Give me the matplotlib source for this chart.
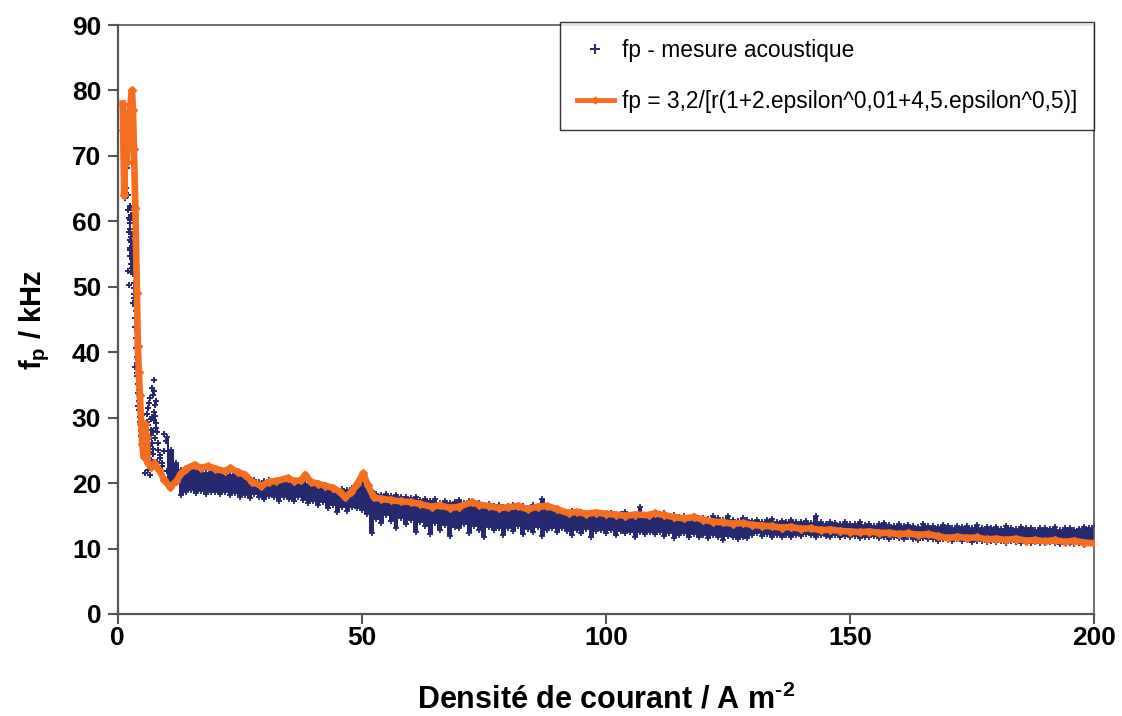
import numpy as np
import matplotlib.pyplot as plt
from matplotlib.lines import Line2D

plt.rcParams['font.family'] = ['Liberation Sans', 'DejaVu Sans']
plt.rcParams['mathtext.fontset'] = 'custom'
plt.rcParams['mathtext.rm'] = 'Liberation Sans:bold'
plt.rcParams['mathtext.it'] = 'Liberation Sans:bold'
plt.rcParams['mathtext.bf'] = 'Liberation Sans:bold'

NAVY = '#262870'
ORANGE = '#F36E21'

# fit curve
fit_x = [1.0, 1.1, 1.3, 1.5, 1.8, 2.0, 2.3, 2.6, 2.9, 3.1, 3.3, 3.6, 3.9, 4.1, 4.3, 4.5, 4.8, 5.0,
         5.3, 5.6, 5.9, 6.2, 6.8, 7.5, 8.5, 9.5, 10.7, 12, 13, 14, 15.8, 17, 18.5, 20, 22, 23,
         24.6, 26, 27.5, 29.4, 31, 32.5, 34.9, 36, 37.5, 38.4, 39.5, 41, 42.5, 44, 45.5, 46.6,
         47.8, 49, 50.3, 51.2, 52.5, 54, 56, 58, 60, 62, 64.3, 66, 68, 70, 72.5, 74, 76, 78, 80,
         82, 84, 86, 88, 90, 92.4, 94, 96, 98, 100, 102, 104, 106, 108.8, 110, 112, 114, 116,
         118, 120, 122, 124, 126, 128, 130, 132, 134, 136, 138, 140, 142, 144, 146, 148, 150,
         152, 154, 156, 158, 160, 162, 164, 166, 168, 170, 172, 174, 176, 178, 180, 182, 184,
         186, 188, 190, 192, 194, 196, 198, 200]
fit_y = [78, 74, 64, 70, 69, 72, 76, 78, 80, 77, 71, 62, 49, 41, 37, 33.5, 29, 26,
         24, 29, 27, 23, 22.5, 23, 22, 20.5, 19.4, 20.3, 21.5, 22.2, 22.8, 22.3, 22.6, 22.2, 21.8, 22.3,
         21.7, 21.3, 20.2, 19.6, 20.2, 20.3, 20.8, 20.3, 20.4, 21.3, 20.2, 19.9, 19.6, 19.3, 18.7, 17.8,
         18.6, 19.8, 21.5, 19.7, 17.8, 17.6, 17.4, 17.2, 17.1, 16.8, 16.4, 16.6, 16.2, 16.4, 17.1, 16.7, 16.5, 16.2, 16.3,
         16.5, 16.0, 16.4, 16.5, 16.0, 15.4, 15.6, 15.3, 15.5, 15.3, 15.2, 15.0, 15.2, 15.1, 15.4, 15.1, 14.8, 14.6,
         14.8, 14.4, 14.1, 14.0, 13.8, 13.9, 13.6, 13.5, 13.4, 13.2, 13.3, 13.0, 13.1, 12.8, 12.9, 12.7, 12.6,
         12.5, 12.6, 12.4, 12.4, 12.2, 12.3, 12.1, 12.2, 11.9, 11.6, 11.8, 11.6, 11.7, 11.4, 11.5, 11.3, 11.5,
         11.2, 11.3, 11.1, 11.3, 11.0, 11.2, 10.9, 10.8]

# scattered acoustic measurements at low current density
early_x = [1.2, 1.5, 1.7, 1.9, 2.1, 2.0, 2.2, 2.4, 2.3, 2.5, 2.6, 2.7, 2.5, 2.8, 2.9, 3.0, 2.7, 3.1, 2.2, 2.1,
           3.3, 3.4, 3.5, 3.6, 3.5, 3.7, 3.8, 3.9, 3.6, 4.0, 4.1, 4.2, 4.3, 4.4, 4.5, 4.6, 4.7, 4.8, 5.0, 5.2,
           5.4, 5.6, 5.8, 6.0, 6.2, 6.4, 6.6, 6.8, 7.0, 7.2, 7.4, 7.6, 7.8, 8.0, 8.3, 8.6, 9.0, 9.4, 9.8, 6.1,
           6.5, 7.1, 7.5, 7.9, 5.5, 5.9, 6.3, 6.9, 7.3, 8.1,
           2.4, 2.6, 2.8, 3.0, 3.2, 2.9, 3.1, 3.3, 2.6, 2.8, 3.0, 3.4, 3.2, 2.4, 2.7,
           3.8, 3.9, 4.0, 4.1, 4.2, 3.9, 4.0, 4.3, 4.4, 4.1,
           5.0, 5.3, 5.6, 5.9, 6.2, 6.6, 7.0, 7.4, 7.8, 8.2, 8.6, 9.0, 9.4, 10.0, 6.7, 7.6,
           7.0, 7.2, 7.5, 7.7, 6.6, 6.9, 7.3]
early_y = [66.3, 63.6, 65.1, 68.2, 64.0, 61.8, 60.5, 62.3, 58.4, 59.7, 57.1, 61.0, 55.6, 56.9, 54.2, 52.8, 53.5, 51.9, 50.2, 52.4,
           49.8, 48.3, 47.0, 45.2, 43.9, 42.1, 40.6, 39.2, 37.8, 36.4, 35.1, 33.7, 32.5, 31.2, 30.1, 29.4, 28.0, 27.2, 26.3, 25.5,
           24.1, 25.8, 27.4, 30.6, 28.9, 26.7, 24.8, 23.6, 22.4, 33.4, 35.7, 31.9, 29.2, 27.8, 26.1, 24.3, 23.0, 27.5, 26.4, 22.0,
           21.3, 34.5, 30.8, 28.4, 21.6, 23.4, 32.2, 29.8, 25.2, 23.2,
           60.2, 58.9, 57.6, 55.1, 53.9, 60.8, 56.3, 50.6, 54.7, 52.2, 58.0, 48.9, 47.5, 56.0, 62.0,
           46.3, 44.8, 43.2, 41.5, 39.9, 38.4, 36.9, 35.6, 34.2, 31.8,
           30.4, 28.7, 27.1, 29.3, 31.5, 33.0, 26.2, 29.6, 32.6, 25.1, 23.8, 22.6, 24.9, 21.8, 28.1, 26.9,
           30.1, 28.0, 34.0, 30.3, 25.6, 27.3, 24.4]

# dense measurement band, x = 10 .. 200 (step 1): low / high edges
band_x = list(range(10, 201))
band_lo = [20.3, 20.0, 20.5, 18.2, 18.6, 18.9, 18.5, 18.8, 18.4, 18.7,
           18.7, 18.3, 18.6, 18.2, 18.5, 17.9, 18.2, 17.7, 18.3, 17.9,
           17.6, 18.1, 17.8, 17.2, 17.9, 17.5, 17.3, 17.9, 17.4, 16.9,
           17.3, 16.6, 17.1, 16.2, 16.7, 15.6, 16.4, 15.8, 16.3, 16.2,
           15.9, 15.3, 12.3, 14.5, 13.9, 15.1, 14.2, 13.1, 14.6, 13.8,
           14.3, 12.5, 14.1, 13.5, 12.2, 13.9, 12.9, 13.6, 11.9, 13.3,
           13.1, 13.7, 12.4, 13.5, 12.8, 11.7, 13.3, 12.9, 13.2, 12.1,
           13.2, 12.7, 13.4, 12.2, 13.0, 12.6, 13.3, 11.9, 12.8, 13.1,
           12.5, 13.2, 12.7, 12.1, 12.9, 12.4, 13.0, 11.8, 12.7, 12.9,
           12.4, 12.8, 12.0, 12.7, 12.3, 12.6, 11.8, 12.5, 12.2, 12.6,
           12.2, 12.5, 11.9, 12.3, 11.6, 12.1, 12.4, 11.8, 12.2, 11.7,
           12.0, 11.6, 12.1, 11.8, 11.3, 11.9, 11.7, 11.5, 11.8, 11.6,
           12.0, 12.3, 11.9, 12.2, 11.8, 12.1, 11.7, 12.0, 11.8, 12.1,
           11.9, 12.2, 12.0, 11.8, 12.1, 11.9, 11.7, 12.0, 11.8, 11.9,
           11.7, 11.9, 11.6, 11.8, 11.7, 11.9, 11.6, 11.8, 11.5, 11.7,
           11.6, 11.4, 11.7, 11.5, 11.3, 11.6, 11.4, 11.5, 11.2, 11.4,
           11.3, 11.1, 11.4, 11.2, 11.3, 11.0, 11.2, 11.1, 11.0, 11.2,
           11.0, 11.2, 10.9, 11.1, 11.0, 10.9, 11.1, 10.8, 11.0, 10.9,
           10.8, 11.0, 10.9, 10.7, 10.9, 10.8, 10.7, 10.9, 10.6, 10.8, 10.7]
band_hi = [27.0, 25.0, 23.0, 22.0, 22.3, 22.6, 22.2, 21.8, 21.6, 21.7,
           21.6, 21.4, 21.5, 21.2, 21.4, 21.0, 20.9, 20.6, 20.4, 20.1,
           20.3, 20.4, 20.2, 20.0, 20.2, 20.1, 19.9, 20.1, 20.4, 19.9,
           19.7, 19.5, 19.4, 19.2, 19.3, 18.9, 19.1, 18.9, 19.2, 19.8,
           20.4, 20.0, 18.8, 18.4, 18.2, 18.4, 18.0, 18.2, 17.9, 17.8,
           17.7, 17.9, 17.4, 17.6, 17.2, 17.5, 17.0, 17.3, 16.9, 17.1,
           17.4, 17.0, 17.2, 16.8, 17.0, 16.6, 16.8, 16.5, 16.6, 16.4,
           16.5, 16.7, 16.3, 16.5, 16.2, 16.6, 16.3, 17.6, 16.4, 16.0,
           16.1, 15.8, 15.5, 15.7, 15.4, 15.6, 15.3, 15.5, 15.2, 15.4,
           15.2, 15.5, 15.0, 15.3, 15.6, 15.1, 15.0, 16.3, 15.2, 15.0,
           15.3, 15.0, 15.4, 14.9, 15.1, 14.8, 15.0, 14.7, 14.9, 14.6,
           14.7, 14.5, 14.9, 14.6, 14.3, 15.0, 14.4, 14.2, 14.6, 14.3,
           14.2, 14.4, 14.1, 14.3, 14.5, 14.0, 14.2, 14.0, 14.3, 14.1,
           14.0, 14.2, 13.9, 14.9, 14.0, 13.8, 14.1, 13.9, 13.8, 14.0,
           13.8, 13.7, 14.0, 13.6, 13.8, 13.5, 13.7, 13.9, 13.6, 13.5,
           13.7, 13.4, 13.6, 13.5, 13.3, 13.8, 13.4, 13.5, 13.3, 13.6,
           13.4, 13.2, 13.5, 13.3, 13.4, 13.1, 13.6, 13.2, 13.3, 13.1,
           13.3, 13.0, 13.4, 13.2, 13.0, 13.3, 13.1, 13.2, 12.9, 13.1,
           13.2, 13.0, 13.3, 12.9, 13.1, 13.2, 12.8, 13.0, 13.3, 13.1, 13.5]

fig = plt.figure(figsize=(11.22, 7.16), dpi=100)
ax = fig.add_axes([0.105, 0.1425, 0.87, 0.8225])

# measurement band
ax.fill_between(band_x, band_lo, band_hi, step='mid', color=NAVY, lw=0, zorder=2)
ax.plot(band_x, band_hi, '+', color=NAVY, ms=4.5, mew=1.3, zorder=2)
ax.plot(band_x, band_lo, '+', color=NAVY, ms=4.5, mew=1.3, zorder=2)
ax.plot(early_x, early_y, '+', color=NAVY, ms=5, mew=1.4, zorder=2)

# fit
ax.plot(fit_x, fit_y, '-', color=ORANGE, lw=4.8, marker='D', ms=4, zorder=3)

ax.set_xlim(0, 200)
ax.set_ylim(0, 90)
ax.set_xticks([0, 50, 100, 150, 200])
ax.set_yticks(range(0, 91, 10))
ax.tick_params(axis='both', labelsize=19, width=1.5, length=7, color='#555555', pad=5)
ax.tick_params(axis='x', pad=2)
for lbl in ax.get_xticklabels() + ax.get_yticklabels():
    lbl.set_fontweight('bold')
for side in ['left', 'bottom']:
    ax.spines[side].set_color('#555555')
    ax.spines[side].set_linewidth(1.6)
for side in ['top', 'right']:
    ax.spines[side].set_color('#555555')
    ax.spines[side].set_linewidth(1.2)

ax.set_xlabel(r'Densité de courant / A m$^{\text{-2}}$', fontsize=22, fontweight='bold', labelpad=24)
ax.set_ylabel(r'f$_{\text{p}}$ / kHz', fontsize=21, fontweight='bold', labelpad=14)

handles = [Line2D([], [], ls='none', marker='+', color=NAVY, ms=7, mew=1.4),
           Line2D([], [], color=ORANGE, lw=3.5, marker='D', ms=3.5)]
leg = ax.legend(handles, ['fp - mesure acoustique', 'fp = 3,2/[r(1+2.epsilon^0,01+4,5.epsilon^0,5)]'],
                loc='upper right', bbox_to_anchor=(1.0, 1.006), fontsize=16.4, frameon=True,
                fancybox=False, edgecolor='black', borderpad=0.75, labelspacing=1.25,
                handlelength=1.6, handletextpad=0.35, borderaxespad=0)
leg.get_frame().set_linewidth(1.0)

fig.savefig('out.png', dpi=100)
